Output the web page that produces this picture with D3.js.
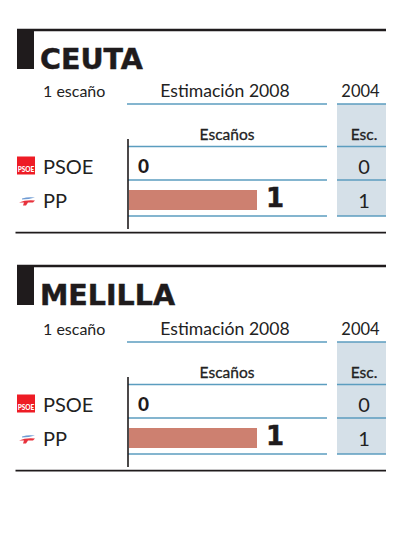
<!DOCTYPE html>
<html>
<head>
<meta charset="utf-8">
<script src="https://cdn.jsdelivr.net/npm/d3@7/dist/d3.min.js"></script>
<style>
html, body { margin: 0; padding: 0; background: #fff; }
svg { display: block; }
text { font-family: Lato, "Open Sans", sans-serif; fill: #222; }
.heavy { font-family: "DejaVu Sans", sans-serif; font-weight: 700; fill: #1f1b1c; stroke: #1f1b1c; stroke-width: 0.5px; }
.zero { font-size: 19px; font-weight: 900; fill: #1f1b1c; }
.sub { font-size: 15.5px; stroke: #222; stroke-width: 0.3px; }
</style>
</head>
<body>
<div id="chart"></div>
<script>
const regions = ["CEUTA", "MELILLA"]
const seatLabels = ["1 escaño", "1 escaño"]
const parties = ["PSOE", "PP"]
const estimate2008 = [[0, 1], [0, 1]]
const results2004 = [[0, 1], [0, 1]]
const headEstimate = "Estimación 2008"
const headPrevious = "2004"
const subEstimate = "Escaños"
const subPrevious = "Esc."

const width = 400, height = 544
const panelTops = [30, 266]          // top black rule
const bodyShift = [0, 2]             // second panel's table sits 2px lower
const blue = "#5b9dbf", ink = "#1f1b1c"

const svg = d3.select("#chart").append("svg")
    .attr("width", width)
    .attr("height", height)

// one seat = full bar length
const x = d3.scaleLinear().domain([0, 1]).range([129, 257])
// row bottoms, measured from the sub header rule
const rowBottom = d3.scaleOrdinal(parties, [33.5, 69.5])
// baseline lift of the row labels above the row bottom
const labelLift = d3.scaleOrdinal(parties, [6, 8])

function hline(g, y, x1, x2, color, w) {
    g.append("line")
        .attr("x1", x1).attr("x2", x2)
        .attr("y1", y).attr("y2", y)
        .attr("stroke", color)
        .attr("stroke-width", w)
}

function drawLogo(g, party, cy) {
    if (party === "PSOE") {
        g.append("rect").attr("x", 17).attr("y", cy - 9).attr("width", 18).attr("height", 18).attr("fill", "#ee1c25")
        g.append("text").attr("x", 26).attr("y", cy + 6.5)
            .attr("text-anchor", "middle")
            .style("font-size", "6.5px").style("font-weight", 900).style("fill", "#fff")
            .text("PSOE")
    } else {
        g.append("path")
            .attr("d", `M22 ${cy - 3} Q28 ${cy - 5} 35 ${cy - 4} Q29 ${cy - 2} 22 ${cy - 2}Z`)
            .attr("fill", "#6f9bd3")
        g.append("path")
            .attr("d", `M19 ${cy + 1} Q26 ${cy - 2} 35 ${cy - 1} L33 ${cy + 1} L28 ${cy + 1} L26 ${cy + 4} L23 ${cy + 4} L24 ${cy + 1}Z`)
            .attr("fill", "#e8323c")
    }
}

regions.forEach((region, p) => {
    const top = panelTops[p]
    const g = svg.append("g").attr("transform", `translate(0,${top})`)
    const body = g.append("g").attr("transform", `translate(0,${bodyShift[p]})`)

    hline(g, 0, 17, 386, ink, 2.6)
    g.append("rect").attr("x", 17).attr("y", -1).attr("width", 17).attr("height", 40).attr("fill", ink)
    g.append("text").attr("class", "heavy").attr("x", 40).attr("y", 39)
        .style("font-size", "28.5px")
        .text(region)

    // previous-election column sits under everything else
    body.append("rect")
        .attr("x", 337).attr("y", 74)
        .attr("width", 49).attr("height", 112)
        .attr("fill", "#d5e0e8")

    body.append("text").attr("x", 43).attr("y", 67)
        .style("font-size", "16px")
        .text(seatLabels[p])
    body.append("text").attr("x", 225).attr("y", 67)
        .attr("text-anchor", "middle")
        .style("font-size", "17.6px")
        .text(headEstimate)
    body.append("text").attr("x", 360.5).attr("y", 67)
        .attr("text-anchor", "middle")
        .style("font-size", "16.5px")
        .text(headPrevious)

    hline(body, 74, 127, 327, blue, 1.5)
    hline(body, 74, 337, 386, blue, 1.5)

    const rows = body.append("g").attr("transform", "translate(0,116.5)")
    body.append("text").attr("class", "sub").attr("x", 227).attr("y", 110)
        .attr("text-anchor", "middle")
        .text(subEstimate)
    body.append("text").attr("class", "sub").attr("x", 364).attr("y", 110)
        .attr("text-anchor", "middle")
        .text(subPrevious)

    hline(rows, 0, 128, 327, blue, 1.5)
    hline(rows, 0, 337, 386, blue, 1.5)

    parties.forEach((party, i) => {
        const bottom = rowBottom(party)
        const value = estimate2008[p][i]
        hline(rows, bottom, 128, 327, blue, 1.5)
        hline(rows, bottom, 337, 386, blue, 1.5)

        drawLogo(rows, party, bottom - 14.5)

        rows.append("text").attr("x", 43).attr("y", bottom - labelLift(party))
            .style("font-size", "20px")
            .text(party)

        if (value > 0) {
            rows.append("rect")
                .attr("x", x(0)).attr("y", bottom - 26)
                .attr("width", x(value) - x(0)).attr("height", 20)
                .attr("fill", "#cd8070")
        }
        rows.append("text").attr("class", value > 0 ? "heavy" : "zero")
            .attr("x", x(value) + 9)
            .attr("y", value > 0 ? bottom - 9 : bottom - 7)
            .style("font-size", value > 0 ? "26px" : null)
            .text(value)

        rows.append("text").attr("x", 364).attr("y", bottom - labelLift(party))
            .attr("text-anchor", "middle")
            .style("font-size", "20px")
            .text(results2004[p][i])
    })

    body.append("line")
        .attr("x1", 128).attr("x2", 128)
        .attr("y1", 109).attr("y2", 199)
        .attr("stroke", ink)
        .attr("stroke-width", 1.6)
    hline(body, 202.7, 15.5, 386, ink, 1.8)
})
</script>
</body>
</html>
